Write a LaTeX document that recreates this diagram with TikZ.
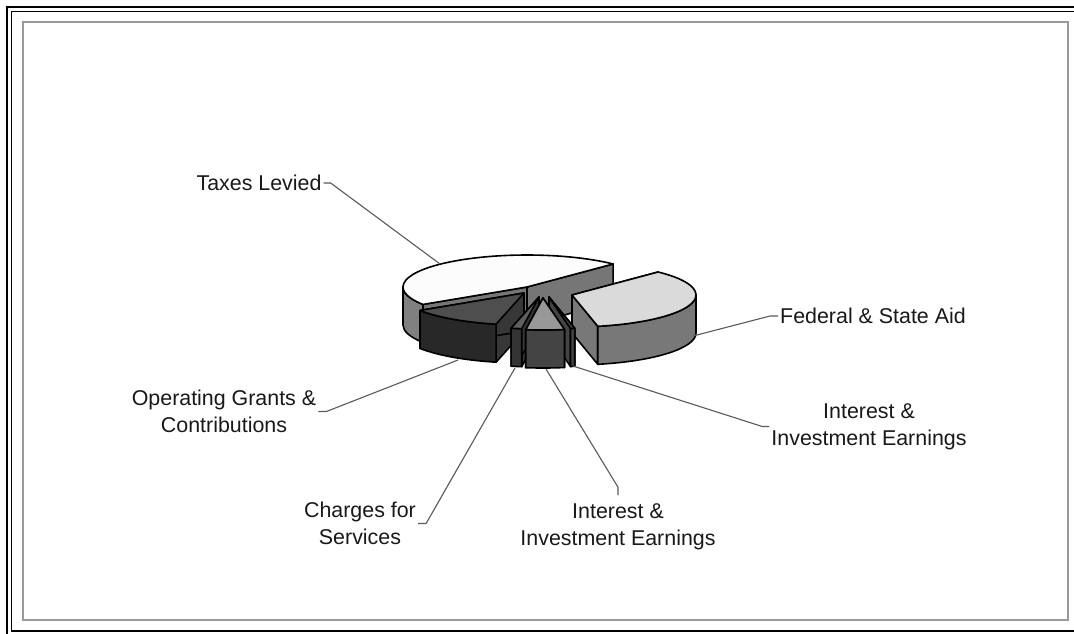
\documentclass[tikz,border=0pt]{standalone}
\usepackage{fontspec}
\setmainfont{Liberation Sans}
\definecolor{taxtop}{RGB}{252,252,252}
\definecolor{taxwall}{RGB}{128,128,128}
\definecolor{taxside}{RGB}{118,118,118}
\definecolor{fedtop}{RGB}{218,218,218}
\definecolor{fedwall}{RGB}{120,120,120}
\definecolor{opstop}{RGB}{78,78,78}
\definecolor{opswall}{RGB}{40,40,40}
\definecolor{opsside}{RGB}{55,55,55}
\definecolor{chgtop}{RGB}{95,95,95}
\definecolor{chgwall}{RGB}{52,52,52}
\definecolor{inttop}{RGB}{152,152,152}
\definecolor{intwall}{RGB}{68,68,68}
\definecolor{leadcolor}{RGB}{90,90,90}
\definecolor{textcolor}{RGB}{25,25,25}

% one 3d slice: offset x, offset y, start, end, top, wall, side
\newcommand{\pieslice}[7]{%
  \begin{scope}[shift={(527+#1,287+#2)}]
    \filldraw[pieface, fill=#7] (0,0) -- (#3:124 and 32) -- ++(0,38) -- (0,38) -- cycle;
    \filldraw[pieface, fill=#7] (0,0) -- (#4:124 and 32) -- ++(0,38) -- (0,38) -- cycle;
    \pgfmathsetmacro{\wallfrom}{max(#3,0)}
    \pgfmathsetmacro{\wallto}{min(#4,180)}
    \ifdim\wallfrom pt<\wallto pt
      \filldraw[pieface, fill=#6] (\wallfrom:124 and 32)
        arc[start angle=\wallfrom, end angle=\wallto, x radius=124, y radius=32]
        -- ++(0,38)
        arc[start angle=\wallto, end angle=\wallfrom, x radius=124, y radius=32] -- cycle;
    \fi
    \filldraw[pieface, fill=#5] (0,0) -- (#3:124 and 32)
      arc[start angle=#3, end angle=#4, x radius=124, y radius=32] -- cycle;
  \end{scope}}

\begin{document}
\begin{tikzpicture}[
    x=1pt, y=-1pt,
    pieface/.style={draw=black, line width=1.6pt, line join=round},
    slicetext/.style={align=center, inner sep=2pt, text=textcolor,
        font=\fontsize{21.4}{27}\selectfont},
    leader/.style={draw=leadcolor, line width=1.1pt}
    ]
\useasboundingbox (0,0) rectangle (1074,633);
\fill[white] (0,0) rectangle (1074,633);

% frame
\draw[line width=2.2pt] (7,7) rectangle (1090,640);
\draw[line width=1.4pt] (11.5,11.5) rectangle (1090,631);
\draw[line width=1.6pt, gray!80] (23,22) rectangle (1068,620);

% slices, back to front
\pieslice{0}{0}{147}{314}{taxtop}{taxwall}{taxside}
\pieslice{45}{8}{-46}{78}{fedtop}{fedwall}{fedwall}
\pieslice{-3}{6}{103}{147}{opstop}{opswall}{opsside}
\pieslice{12}{10}{98}{103}{chgtop}{chgwall}{chgwall}
\pieslice{22}{10}{78}{80}{intwall}{intwall}{intwall}
\pieslice{16}{11}{80}{98}{inttop}{intwall}{intwall}

% leader ends
\coordinate (taxespt) at (440,264);
\coordinate (federalpt) at (693,336);
\coordinate (grantspt) at (458,360);
\coordinate (chargespt) at (515,368);
\coordinate (interestbpt) at (546,369);
\coordinate (interestrpt) at (573,366);

% labels
\node[slicetext] (taxes) at (259,183) {Taxes Levied};
\node[slicetext] (federal) at (873,316) {Federal \& State Aid};
\node[slicetext] (grants) at (224,411.5) {Operating Grants \&\\Contributions};
\node[slicetext] (charges) at (360,523.5) {Charges for\\Services};
\node[slicetext] (interestb) at (618,526.5) {Interest \&\\Investment Earnings};
\node[slicetext] (interestr) at (869,426.5) {Interest \&\\Investment Earnings};

\draw[leader] (taxes.east) -- ++(7,0) -- (taxespt);
\draw[leader] (federal.west) -- ++(-8,0) -- (federalpt);
\draw[leader] (grants.east) -- ++(8,0) -- (grantspt);
\draw[leader] (charges.east) -- ++(8,0) -- (chargespt);
\draw[leader] (interestb.north) ++(0,-6) -- ++(0,-8) -- (interestbpt);
\draw[leader] (interestr.west) -- ++(-7,0) -- (interestrpt);

\end{tikzpicture}
\end{document}
